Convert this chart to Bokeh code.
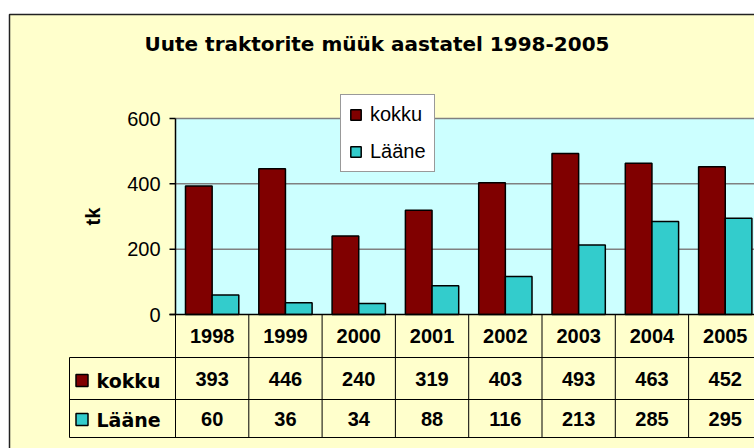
import numpy as np
from bokeh.plotting import figure
from bokeh.models import Range1d, Legend, LegendItem
from bokeh.core.properties import value
from bokeh.embed import file_html
from bokeh.resources import INLINE

# ---------------- data ----------------
years = ["1998", "1999", "2000", "2001", "2002", "2003", "2004", "2005"]
kokku = [393, 446, 240, 319, 403, 493, 463, 452]
laane = [60, 36, 34, 88, 116, 213, 285, 295]
yticks = [0, 200, 400, 600]
series_names = ["kokku", "Lääne"]
title_text = "Uute traktorite müük aastatel 1998-2005"
y_label = "tk"

# ---------------- layout (pixel geometry) ----------------
W, H = 754, 448
PAGE = 0
COLW = 73.3          # px per category column
PLOT_L = 175         # x of plot-area left edge
ZERO_Y = 314         # y of value 0
PX_PER_UNIT = 196 / 600

FONT_NAME = "Liberation Sans"
FONT = value(FONT_NAME)
WIDE_FONT = value("DejaVu Sans")
C_KOKKU = "#800000"
C_LAANE = "#33CCCC"


def X(px):
    return (px - PLOT_L) / COLW


def Y(py):
    return (ZERO_Y - py) / PX_PER_UNIT


n = len(years)
idx = np.arange(n)

p = figure(width=W, height=H, output_backend="svg", toolbar_location=None,
           x_range=Range1d(X(PAGE), X(PAGE + W)),
           y_range=Range1d(Y(PAGE + H), Y(PAGE)),
           x_axis_location=None, y_axis_location=None,
           min_border=0, outline_line_color=None,
           background_fill_color="white", border_fill_color="white")
p.xgrid.visible = False
p.ygrid.visible = False

# chart area
p.quad(left=X(9), right=X(900), top=Y(14), bottom=Y(600),
       fill_color="#FFFFCC", line_color="#222222", line_width=1.5)

# plot area
ymax = max(yticks)
p.quad(left=0, right=n, bottom=0, top=ymax, fill_color="#CCFFFF", line_color=None)
gy = yticks[1:]
p.segment(x0=[0] * len(gy), x1=[n] * len(gy), y0=gy, y1=gy,
          line_color="#808080", line_width=1.5)

# bars (gap width 75%)
bw = 1 / 2.75
r_k = p.vbar(x=idx + 0.5 - bw / 2, top=kokku, bottom=0, width=bw,
             fill_color=C_KOKKU, line_color="black", line_width=1.5)
r_l = p.vbar(x=idx + 0.5 + bw / 2, top=laane, bottom=0, width=bw,
             fill_color=C_LAANE, line_color="black", line_width=1.5)

# axes
p.segment(x0=[0], x1=[0], y0=[0], y1=[ymax], line_color="black", line_width=1.5)
p.segment(x0=[X(169)] * len(yticks), x1=[0] * len(yticks), y0=yticks, y1=yticks,
          line_color="black", line_width=1.5)
p.segment(x0=[X(169)], x1=[n], y0=[0], y1=[0], line_color="black", line_width=1.5)
p.text(x=[X(160)] * len(yticks), y=yticks, text=[str(v) for v in yticks],
       text_font=FONT, text_font_size="20px", text_align="right",
       text_baseline="middle", text_color="black")

# data table
row_lines = [Y(357), Y(399), Y(437)]
p.segment(x0=[X(69)] * 3, x1=[n + 0.5] * 3, y0=row_lines, y1=row_lines,
          line_color="black", line_width=1)
p.segment(x0=[X(69)], x1=[X(69)], y0=[Y(357)], y1=[Y(437)],
          line_color="black", line_width=1)
cols = list(range(n + 1))
p.segment(x0=cols, x1=cols, y0=[0] * len(cols), y1=[Y(437)] * len(cols),
          line_color="black", line_width=1)

tfont = dict(text_font=FONT, text_font_size="20px", text_font_style="bold",
             text_baseline="middle", text_color="black")
p.text(x=idx + 0.5, y=[Y(335.5)] * n, text=years, text_align="center", **tfont)
p.text(x=idx + 0.5, y=[Y(378)] * n, text=[str(v) for v in kokku], text_align="center", **tfont)
p.text(x=idx + 0.5, y=[Y(418)] * n, text=[str(v) for v in laane], text_align="center", **tfont)

p.scatter(x=[X(81.5)] * 2, y=[Y(380), Y(419)], marker="square", size=12,
          fill_color=[C_KOKKU, C_LAANE], line_color="black", line_width=1.5)
p.text(x=[X(96)] * 2, y=[Y(380), Y(419)], text=series_names, text_align="left",
       text_font=WIDE_FONT, text_font_size="19px", text_font_style="bold",
       text_baseline="middle", text_color="black")

# title and axis label
p.text(x=[X(376.5)], y=[Y(43.5)], text=[title_text], text_font=WIDE_FONT,
       text_font_size="20px", text_font_style="bold", text_align="center",
       text_baseline="middle", text_color="black")
p.text(x=[X(92)], y=[Y(216)], text=[y_label], angle=np.pi / 2, text_font=FONT,
       text_font_size="20px", text_font_style="bold", text_align="center",
       text_baseline="middle", text_color="black")

# legend
legend = Legend(items=[LegendItem(label=series_names[0], renderers=[r_k]),
                       LegendItem(label=series_names[1], renderers=[r_l])],
                location=(340 - PAGE, H - (172 - PAGE)),
                orientation="vertical",
                background_fill_color="white", background_fill_alpha=1.0,
                border_line_color="#333333", border_line_width=1,
                padding=8, spacing=14, margin=0,
                glyph_width=13, glyph_height=13, label_standoff=8,
                label_text_font=FONT_NAME, label_text_font_size="20px",
                label_text_color="black")
p.add_layout(legend)

open("out.html", "w").write(file_html(p, INLINE))
